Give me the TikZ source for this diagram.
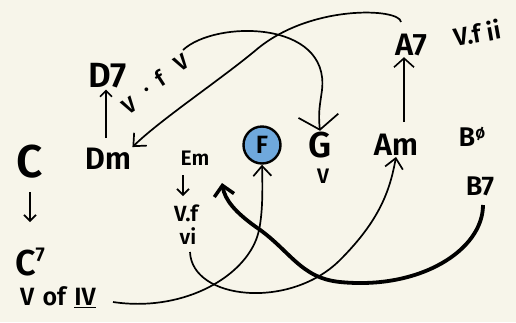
\documentclass[tikz,border=0pt]{standalone}
\usepackage{fontspec}
\setmainfont{Fira Sans}[BoldFont={Fira Sans SemiBold}]
\usetikzlibrary{arrows.meta}
\definecolor{bg}{HTML}{F7F5EA}
\definecolor{fblue}{HTML}{6FA8DC}
\newcommand{\fs}[1]{\fontsize{#1}{#1}\selectfont\bfseries}
\begin{document}
\begin{tikzpicture}[x=1pt,y=-1pt,
  txt/.style={inner sep=1pt},
  rot/.style={inner sep=0pt,rotate=33,font=\fs{22}},
  conn/.style={line width=1.7pt,-{Straight Barb[length=10pt,width=18pt,line width=1.7pt]}},
  stub/.style={line width=1.6pt,-{Straight Barb[length=6pt,width=12pt,line width=1.6pt]}}]
\fill[bg] (0,0) rectangle (516,322);
\useasboundingbox (0,0) rectangle (516,322);
% nodes
\node[txt,font=\fs{46}] (C) at (30,162) {C};
\node[txt,font=\fs{36}] (C7) at (30,262) {C\raisebox{0.75ex}{\fs{20}7}};
\node[txt,font=\fs{25}] (VofIV) at (58,297) {V\,\,of\,\,\underline{IV}};
\node[txt,font=\fs{31}] (Dm) at (108,159) {Dm};
\node[txt,font=\fs{35}] (D7) at (108,76) {D7};
\node[rot] (Vf1) at (130,106) {V};
\node[rot] (Vfd) at (147,90) {.};
\node[rot] (Vff) at (160,78) {f};
\node[rot] (Vf2) at (182,63) {V};
\node[txt,font=\fs{21}] (Em) at (195,158) {Em};
\node[txt,font=\fs{22}] (Vf) at (186,213) {V.f};
\node[txt,font=\fs{21}] (vi) at (188,236) {vi};
\node[circle,draw,line width=2.4pt,fill=fblue,minimum size=37pt,inner sep=0pt,font=\fs{25}] (F) at (262,145) {F};
\node[txt,font=\fs{36}] (G) at (320,145) {G};
\node[txt,font=\fs{21}] (V) at (323,176) {V};
\node[txt,font=\fs{31}] (Am) at (396,145) {Am};
\node[txt,font=\fs{31}] (A7) at (411,45) {A7};
\node[txt,font=\fs{25},rotate=10] (Vfii) at (477,33) {V.f ii};
\node[txt,font=\fs{27}] (Bo) at (472,137) {B\raisebox{0.6ex}{\fs{17}ø}};
\node[txt,font=\fs{27}] (B7) at (480,186) {B7};
% short arrows
\coordinate (c1) at (30,192);
\coordinate (c2) at (30,222);
\draw[stub] (c1) -- (c2);
\coordinate (d1) at (106,138);
\draw[stub] (d1) -- (D7.south -| d1);
\coordinate (e1) at (183,175);
\coordinate (e2) at (183,196);
\draw[stub] (e1) -- (e2);
\coordinate (a1) at (404,122);
\draw[stub,-{Straight Barb[length=9pt,width=20pt,line width=1.6pt]}] (a1) -- (A7.south -| a1);
% long connectors
\coordinate (a7s) at (401,22);
\draw[conn] (a7s) .. controls (400,8) and (310,4) .. (256,50) .. controls (220,80) and (160,120) .. (Dm.north east);
\coordinate (vs) at (183,50);
\draw[conn,-{Straight Barb[length=14pt,width=40pt,line width=1.7pt]}] (vs) .. controls (215,20) and (330,20) .. (322,90) .. controls (320,105) and (318,112) .. (G.north);
\coordinate (ofs) at (113,302);
\draw[conn] (ofs) .. controls (180,312) and (240,280) .. (256,240) .. controls (262,225) and (263,200) .. (F.south);
\coordinate (vis) at (190,252);
\draw[conn] (vis) .. controls (192,300) and (290,310) .. (340,260) .. controls (380,220) and (390,190) .. (Am.south);
\coordinate (b7s) at (483,205);
\draw[line width=3.8pt,-{Straight Barb[length=10pt,width=20pt,line width=3.5pt]}] (b7s) .. controls (483,250) and (420,290) .. (340,282) .. controls (300,278) and (290,250) .. (256,227) .. controls (235,212) and (225,200) .. (222,183);
\end{tikzpicture}
\end{document}
